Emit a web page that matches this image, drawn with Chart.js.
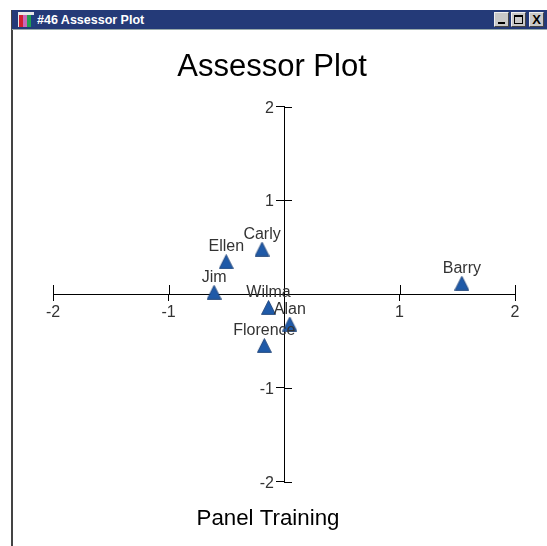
<!DOCTYPE html>
<html>
<head>
<meta charset="utf-8">
<title>Assessor Plot</title>
<script src="https://cdn.jsdelivr.net/npm/chart.js@4/dist/chart.umd.min.js"></script>
<style>
  html, body { margin: 0; padding: 0; background: #fff; overflow: hidden; }
  #plot { position: absolute; left: 0; top: 0; }
  .border { position: absolute; left: 11px; top: 10px; width: 2px; height: 536px; background: #444; }
  .bar { position: absolute; left: 12px; top: 10px; width: 535px; height: 19px; background: #243a78; border-bottom: 1px solid #9aa; }
  .bar span.name { position: absolute; left: 25px; top: 3px; color: #fff; font: bold 12.5px/14px "Liberation Sans", sans-serif; white-space: nowrap; }
  .iconbg { position: absolute; left: 6px; top: 2px; width: 16px; height: 15px; background: #e8e8e8; }
  .icon { position: absolute; top: 5px; width: 4px; height: 12px; }
  .btn { position: absolute; top: 2px; width: 15px; height: 15px; background: #c8c8c8; border: 1px solid; border-color: #eee #444 #444 #eee; box-sizing: border-box; color: #000; text-align: center; font: bold 13px/13px "Liberation Sans", sans-serif; }
</style>
</head>
<body>
<canvas id="plot" width="547" height="546"></canvas>
<div class="border"></div>
<div class="bar">
  <div class="iconbg"></div>
  <div class="icon" style="left:7px;background:#d02030"></div>
  <div class="icon" style="left:11px;background:#c868b8"></div>
  <div class="icon" style="left:15px;background:#20a050"></div>
  <div class="icon" style="left:19px;background:#1f3f80"></div>
  <span class="name">#46 Assessor Plot</span>
  <div class="btn" style="left:482px"><div style="position:absolute;left:3px;bottom:2px;width:7px;height:2px;background:#000"></div></div>
  <div class="btn" style="left:499px"><div style="position:absolute;left:2px;top:2px;width:9px;height:9px;border:1px solid #000;border-top-width:2px;box-sizing:border-box"></div></div>
  <div class="btn" style="left:517px">X</div>
</div>
<script>
const assessors = ["Barry", "Carly", "Ellen", "Jim", "Wilma", "Alan", "Florence"];
const dim1 = [1.54, -0.19, -0.50, -0.605, -0.134, 0.05, -0.17];
const dim2 = [0.115, 0.479, 0.344, 0.018, -0.144, -0.32, -0.55];
const tickValues = [-2, -1, 1, 2];
const titleText = "Assessor Plot";
const footerText = "Panel Training";

const textColor = "#333";

// taller than chart.js' own triangle
function triangleMark() {
  const c = document.createElement("canvas");
  c.width = 15;
  c.height = 15;
  const g = c.getContext("2d");
  g.beginPath();
  g.moveTo(7.5, 0.5);
  g.lineTo(14.5, 14.4);
  g.lineTo(0.5, 14.4);
  g.closePath();
  g.fillStyle = "#1f5aa8";
  g.fill();
  g.strokeStyle = "#163a70";
  g.lineWidth = 0.8;
  g.stroke();
  return c;
}

// names, titles, y tick labels and the half of each tick that chart.js does not draw
const extras = {
  id: "extras",
  afterDatasetsDraw(chart) {
    const { ctx, scales: { x, y } } = chart;
    const x0 = Math.round(x.getPixelForValue(0));
    const y0 = Math.round(y.getPixelForValue(0));
    ctx.save();
    ctx.strokeStyle = "#000";
    ctx.lineWidth = 1;
    ctx.beginPath();
    tickValues.forEach((t) => {
      const px = Math.round(x.getPixelForValue(t)) + 0.5;
      ctx.moveTo(px, y0 - 9);
      ctx.lineTo(px, y0);
      const py = Math.round(y.getPixelForValue(t)) + 0.5;
      ctx.moveTo(x0, py);
      ctx.lineTo(x0 + 8, py);
    });
    ctx.stroke();

    ctx.fillStyle = textColor;
    ctx.font = '16px "Liberation Sans"';
    ctx.textBaseline = "alphabetic";
    ctx.textAlign = "right";
    tickValues.forEach((t) => {
      ctx.fillText(String(t), x0 - 10, y.getPixelForValue(t) + 6);
    });
    ctx.textAlign = "center";
    assessors.forEach((name, i) => {
      ctx.fillText(name, x.getPixelForValue(dim1[i]), y.getPixelForValue(dim2[i]) - 10.5);
    });

    ctx.fillStyle = "#000";
    ctx.font = '31px "Liberation Sans"';
    ctx.fillText(titleText, 272, 76);
    ctx.font = '22.3px "Liberation Sans"';
    ctx.fillText(footerText, 268, 525);
    ctx.restore();
  },
};

new Chart(document.getElementById("plot"), {
  type: "scatter",
  data: {
    datasets: [
      {
        label: "Assessors",
        data: dim1.map((v, i) => ({ x: v, y: dim2[i] })),
        pointStyle: triangleMark(),
      },
    ],
  },
  options: {
    responsive: false,
    animation: false,
    layout: { padding: { left: 53, right: 32, top: 106.5, bottom: 64.5 } },
    plugins: { legend: { display: false }, tooltip: { enabled: false } },
    scales: {
      x: {
        type: "linear",
        min: -2,
        max: 2,
        position: { y: 0 },
        border: { color: "#000" },
        grid: { drawOnChartArea: false, tickColor: "#000", tickLength: 6 },
        ticks: {
          stepSize: 1,
          maxRotation: 0,
          padding: 3,
          color: textColor,
          font: { family: "Liberation Sans", size: 16 },
          callback: (v) => (v === 0 ? "" : v),
        },
      },
      y: {
        type: "linear",
        min: -2,
        max: 2,
        position: { x: 0 },
        border: { color: "#000" },
        grid: { drawOnChartArea: false, tickColor: "#000", tickLength: 8 },
        ticks: { stepSize: 1, display: false },
      },
    },
  },
  plugins: [extras],
});
</script>
</body>
</html>
